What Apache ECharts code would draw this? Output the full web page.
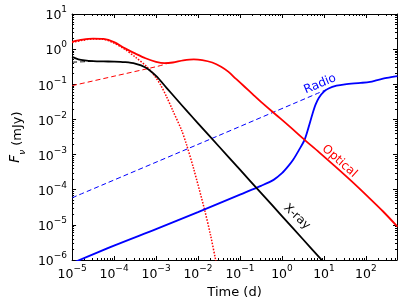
<!DOCTYPE html>
<html>
<head>
<meta charset="utf-8">
<script src="https://cdn.jsdelivr.net/npm/echarts@6/dist/echarts.min.js"></script>
<style>html,body{margin:0;padding:0;background:#fff}#c{width:407px;height:305px}</style>
</head>
<body>
<div id="c"></div>
<script>
// Values, as [log10(time in d), log10(flux in mJy)]
const opticalTotal = [[-5,0.21],[-4.75,0.27],[-4.5,0.30],[-4.25,0.29],[-4,0.20],[-3.75,0.03],[-3.5,-0.12],[-3.25,-0.26],[-3.0,-0.36],[-2.8,-0.40],[-2.6,-0.38],[-2.35,-0.32],[-2.1,-0.29],[-1.9,-0.31],[-1.66,-0.38],[-1.45,-0.50],[-1.28,-0.64],[-1.1,-0.84],[-0.89,-1.07],[-0.7,-1.28],[-0.5,-1.50],[-0.13,-1.88],[0.2,-2.22],[0.5,-2.54],[0.88,-2.93],[1.26,-3.33],[1.65,-3.75],[2.04,-4.19],[2.41,-4.62],[2.75,-5.05]];
const opticalReverse = [[-5,0.19],[-4.75,0.25],[-4.5,0.29],[-4.25,0.28],[-4,0.17],[-3.75,0.0],[-3.5,-0.22],[-3.2,-0.52],[-3.0,-0.82],[-2.89,-1.02],[-2.75,-1.35],[-2.6,-1.75],[-2.39,-2.31],[-2.27,-2.73],[-2.1,-3.42],[-1.85,-4.54],[-1.7,-5.30],[-1.58,-6.0],[-1.52,-6.35]];
const opticalForward = [[-5,-1.04],[-4,-0.77],[-3,-0.50],[-2.75,-0.42]];
const xrayTotal = [[-5,-0.22],[-4.85,-0.29],[-4.7,-0.32],[-4.5,-0.34],[-4.25,-0.35],[-4,-0.355],[-3.75,-0.37],[-3.5,-0.41],[-3.25,-0.52],[-3.0,-0.76],[-2.75,-1.10],[-2.5,-1.44],[-2.25,-1.78],[-2,-2.11],[-1.5,-2.77],[-1,-3.43],[-0.5,-4.09],[0,-4.75],[0.5,-5.41],[1.0,-6.07]];
const xrayForward = [[-5,-0.37],[-4.75,-0.36],[-4.5,-0.345]];
const radioTotal = [[-5,-6.09],[-4,-5.59],[-3,-5.12],[-2,-4.64],[-1,-4.14],[-0.5,-3.89],[-0.2,-3.72],[0,-3.53],[0.15,-3.33],[0.27,-3.14],[0.4,-2.88],[0.535,-2.59],[0.63,-2.24],[0.73,-1.83],[0.8,-1.58],[0.88,-1.38],[1.0,-1.21],[1.11,-1.12],[1.3,-1.04],[1.5,-1.0],[1.88,-0.96],[2.1,-0.93],[2.27,-0.88],[2.5,-0.82],[2.75,-0.77]];
const radioForward = [[-5,-4.23],[-2,-2.71],[1.1,-1.13]];
// Curve labels: [text, time (d), flux (mJy), angle (deg), colour]
const curveLabels = [["Radio",8.1,0.101,22.8,"#0000ff"],["Optical",23.5,6.45e-4,-41.7,"#ff0000"],["X-ray",2.27,1.69e-5,-43,"#000000"]];
// Axes
const xRange = [1e-5, 550];
const yRange = [1e-6, 10];
const xTickExp = [-5,-4,-3,-2,-1,0,1,2];
const yTickExp = [-6,-5,-4,-3,-2,-1,0,1];
const xTitle = "Time (d)";
const yTitle = "{i|F}{s|ν} (mJy)";

const FONT = "DejaVu Sans";
const toXY = arr => arr.map(p => [Math.pow(10,p[0]), Math.pow(10,p[1])]);
const majors = exps => exps.map(e => Math.pow(10,e));
function minors(lo, hi){
  const out=[];
  for(let e=-8;e<=4;e++) for(let m=2;m<=9;m++){const v=m*Math.pow(10,e); if(v>lo*1.0001 && v<hi*0.9999) out.push(v);}
  return out;
}
const supMinus = s => String(s).replace('-', '\u2212');
const labelFmt = v => { const e=Math.round(Math.log10(v)); return '{b|10}{s|'+supMinus(e)+'}'; };
const labelRich = {
  b:{fontFamily:FONT,fontSize:12.5,color:'#000',lineHeight:17,verticalAlign:'bottom'},
  s:{fontFamily:FONT,fontSize:9,color:'#000',lineHeight:9,verticalAlign:'top'}
};
const line = {show:true,lineStyle:{color:'#000',width:1}};
function xAx(pos, major){
  const vals = major ? majors(xTickExp) : minors(xRange[0],xRange[1]);
  const a = {type:'log',logBase:10,min:xRange[0],max:xRange[1],position:pos,
    axisLine: major?line:{show:false},
    axisTick:{show:true,inside:true,length:major?4:2,customValues:vals,lineStyle:{color:'#000',width:1}},
    axisLabel:{show:major&&pos==='bottom',customValues:vals,formatter:labelFmt,rich:labelRich,margin:4},
    splitLine:{show:false},minorTick:{show:false}};
  if(major && pos==='bottom'){a.name=xTitle;a.nameLocation='middle';a.nameGap=19;a.nameTextStyle={fontFamily:FONT,fontSize:13,color:'#000'};}
  return a;
}
function yAx(pos, major){
  const vals = major ? majors(yTickExp) : minors(yRange[0],yRange[1]);
  const a = {type:'log',logBase:10,min:yRange[0],max:yRange[1],position:pos,
    axisLine: major?line:{show:false},
    axisTick:{show:true,inside:true,length:major?4:2,customValues:vals,lineStyle:{color:'#000',width:1}},
    axisLabel:{show:major&&pos==='left',customValues:vals,formatter:labelFmt,rich:labelRich,margin:5},
    splitLine:{show:false},minorTick:{show:false}};
  if(major && pos==='left'){a.name=yTitle;a.nameLocation='middle';a.nameGap=39;a.nameRotate=90;
    a.nameTextStyle={fontFamily:FONT,fontSize:13,color:'#000',rich:{
      i:{fontFamily:FONT,fontSize:13.5,fontStyle:'italic',color:'#000',verticalAlign:'top',lineHeight:15},
      s:{fontFamily:FONT,fontSize:9,fontStyle:'italic',color:'#000',verticalAlign:'bottom',lineHeight:19}}};}
  return a;
}
function ser(data, color, width, type){
  return {type:'line',xAxisIndex:0,yAxisIndex:0,data:toXY(data),showSymbol:false,symbol:'none',smooth:0.3,
    lineStyle:{color:color,width:width,type:type},silent:true};
}
const chart = echarts.init(document.getElementById('c'),null,{renderer:'canvas'});
chart.setOption({
  animation:false,
  backgroundColor:'#fff',
  textStyle:{fontFamily:FONT},
  grid:{left:62,right:10,top:14,bottom:45,containLabel:false},
  xAxis:[xAx('bottom',true),xAx('top',true),xAx('top',false),xAx('bottom',false)],
  yAxis:[yAx('left',true),yAx('right',true),yAx('right',false),yAx('left',false)],
  series:[
    ser(radioForward,'#0000ff',1,[5,3]),
    ser(opticalForward,'#ff0000',1,[5,3]),
    ser(xrayForward,'#000000',1,[5,3]),
    ser(opticalReverse,'#ff0000',1.5,[1.5,1.5]),
    ser(radioTotal,'#0000ff',1.8,'solid'),
    ser(xrayTotal,'#000000',1.8,'solid'),
    ser(opticalTotal,'#ff0000',1.8,'solid')
  ]
});
const g = curveLabels.map(l => {
  const p = chart.convertToPixel({xAxisIndex:0,yAxisIndex:0},[l[1],l[2]]);
  return {type:'text',x:p[0],y:p[1],rotation:l[3]*Math.PI/180,z:100,
    style:{text:l[0],fill:l[4],font:'12px "'+FONT+'"',align:'center',verticalAlign:'middle'}};
});
chart.setOption({graphic:g});
</script>
</body>
</html>
